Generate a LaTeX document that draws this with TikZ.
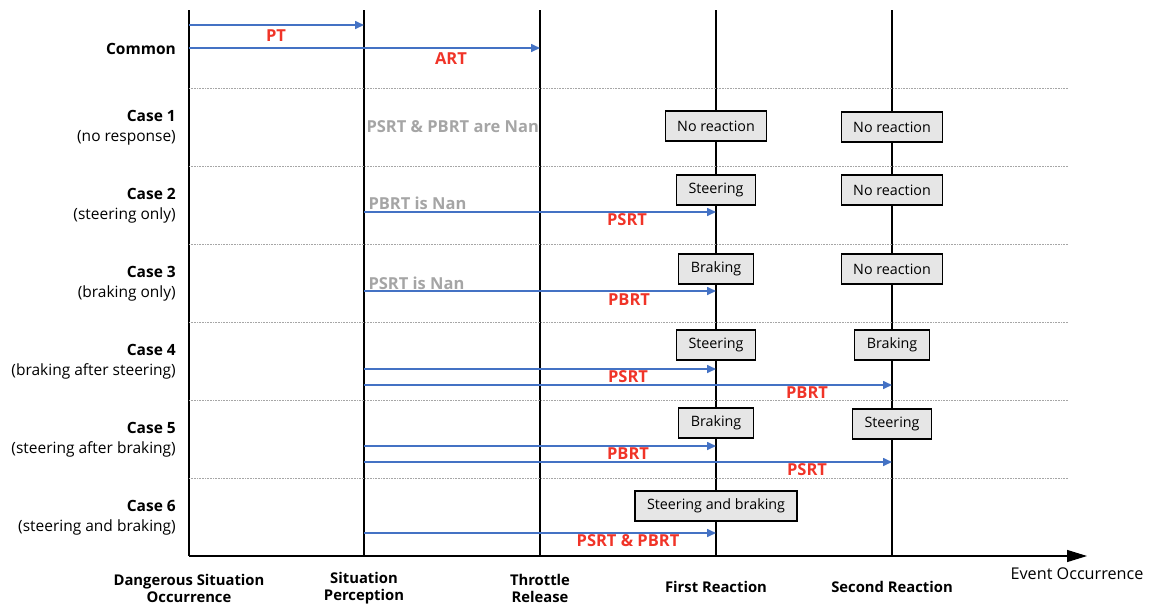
\documentclass[tikz,border=0pt]{standalone}
\usepackage{fontspec}
\setmainfont{Open Sans}
\usetikzlibrary{arrows.meta}
\definecolor{spanblue}{RGB}{68,114,196}
\definecolor{spanred}{RGB}{240,52,40}
\definecolor{nangray}{RGB}{165,165,165}
\definecolor{boxgray}{RGB}{230,230,230}

\begin{document}
\begin{tikzpicture}[x=1pt,y=-1pt,
  timeline/.style={line width=1.2pt},
  sep/.style={densely dotted,gray!70,line width=0.6pt},
  span/.style={spanblue,line width=1.6pt,-{Triangle[length=9pt,width=8pt]}},
  spanlabel/.style={spanred,font=\fontsize{16.5}{18}\selectfont\bfseries},
  nanlabel/.style={nangray,anchor=west,font=\fontsize{16.5}{18}\selectfont\bfseries},
  react/.style={draw,line width=1.4pt,fill=boxgray,minimum height=30pt,inner xsep=12pt,font=\fontsize{14.3}{16}\selectfont},
  caselabel/.style={anchor=east,align=right,inner xsep=1pt,font=\fontsize{15.5}{20}\selectfont},
  eventlabel/.style={align=center,font=\fontsize{14.8}{17}\selectfont\bfseries}]
\useasboundingbox (0,0) rectangle (1150,608);
% time lines
\foreach \i/\x in {0/189,1/364,2/540,3/716,4/892}
  {
    \coordinate (t\i) at (\x,556);
    \draw[timeline] (\x,10) -- (t\i);
  }
\coordinate (axisend) at (1087,556);
\draw[timeline,-{Triangle[length=20pt,width=12pt]}] (t0) -- (axisend);
\foreach \y in {88,166,244,322,400,478}
  {
    \draw[sep] (189,\y) -- (1068,\y);
  }
% row labels
\node[caselabel] (common) at (177,49) {\textbf{Common}};
\foreach \n/\y/\txt in {1/127.5/no response,2/205.5/steering only,3/284/braking only,
    4/361.5/braking after steering,5/440/steering after braking,6/518/steering and braking}
  {
    \node[caselabel] (case\n) at (177,\y) {\textbf{Case \n}\\(\txt)};
  }
% common spans
\draw[span] (t0 |- 0,25) -- (t1 |- 0,25);
\node[spanlabel] (pt) at (276,36) {PT};
\draw[span] (t0 |- 0,48) -- (t2 |- 0,48);
\node[spanlabel] (art) at (451,59) {ART};
% case 1
\node[nanlabel] (nan1) at (363,127) {PSRT \& PBRT are Nan};
\node[react] (first1) at (t3 |- 0,126) {No reaction};
\node[react] (second1) at (t4 |- 0,127) {No reaction};
% case 2
\node[nanlabel] (nan2) at (365,203) {PBRT is Nan};
\draw[span] (t1 |- 0,212) -- (t3 |- 0,212);
\node[spanlabel] (psrt2) at (627,220) {PSRT};
\node[react] (first2) at (t3 |- 0,190) {Steering};
\node[react] (second2) at (t4 |- 0,190) {No reaction};
% case 3
\node[nanlabel] (nan3) at (365,283) {PSRT is Nan};
\draw[span] (t1 |- 0,291) -- (t3 |- 0,291);
\node[spanlabel] (pbrt3) at (629,300) {PBRT};
\node[react] (first3) at (t3 |- 0,269) {Braking};
\node[react] (second3) at (t4 |- 0,269) {No reaction};
% case 4
\node[react] (first4) at (t3 |- 0,345) {Steering};
\node[react] (second4) at (t4 |- 0,345) {Braking};
\draw[span] (t1 |- 0,369) -- (t3 |- 0,369);
\node[spanlabel] (psrt4) at (628,377) {PSRT};
\draw[span] (t1 |- 0,385) -- (t4 |- 0,385);
\node[spanlabel] (pbrt4) at (807,393) {PBRT};
% case 5
\node[react] (first5) at (t3 |- 0,423) {Braking};
\node[react] (second5) at (t4 |- 0,424) {Steering};
\draw[span] (t1 |- 0,446) -- (t3 |- 0,446);
\node[spanlabel] (pbrt5) at (628,454) {PBRT};
\draw[span] (t1 |- 0,462) -- (t4 |- 0,462);
\node[spanlabel] (psrt5) at (807,470) {PSRT};
% case 6
\node[react] (first6) at (t3 |- 0,506) {Steering and braking};
\draw[span] (t1 |- 0,533) -- (t3 |- 0,533);
\node[spanlabel] (both6) at (628,541) {PSRT \& PBRT};
% events
\node[eventlabel] (danger) at (189,588) {Dangerous Situation\\Occurrence};
\node[eventlabel] (percept) at (364,588) {Situation\\Perception};
\node[eventlabel] (throttle) at (540,588) {Throttle\\Release};
\node[eventlabel] (firstreact) at (716,587) {First Reaction};
\node[eventlabel] (secondreact) at (892,587) {Second Reaction};
\node[font=\fontsize{16.2}{18}\selectfont] (evocc) at (1077,574) {Event Occurrence};
\end{tikzpicture}
\end{document}
